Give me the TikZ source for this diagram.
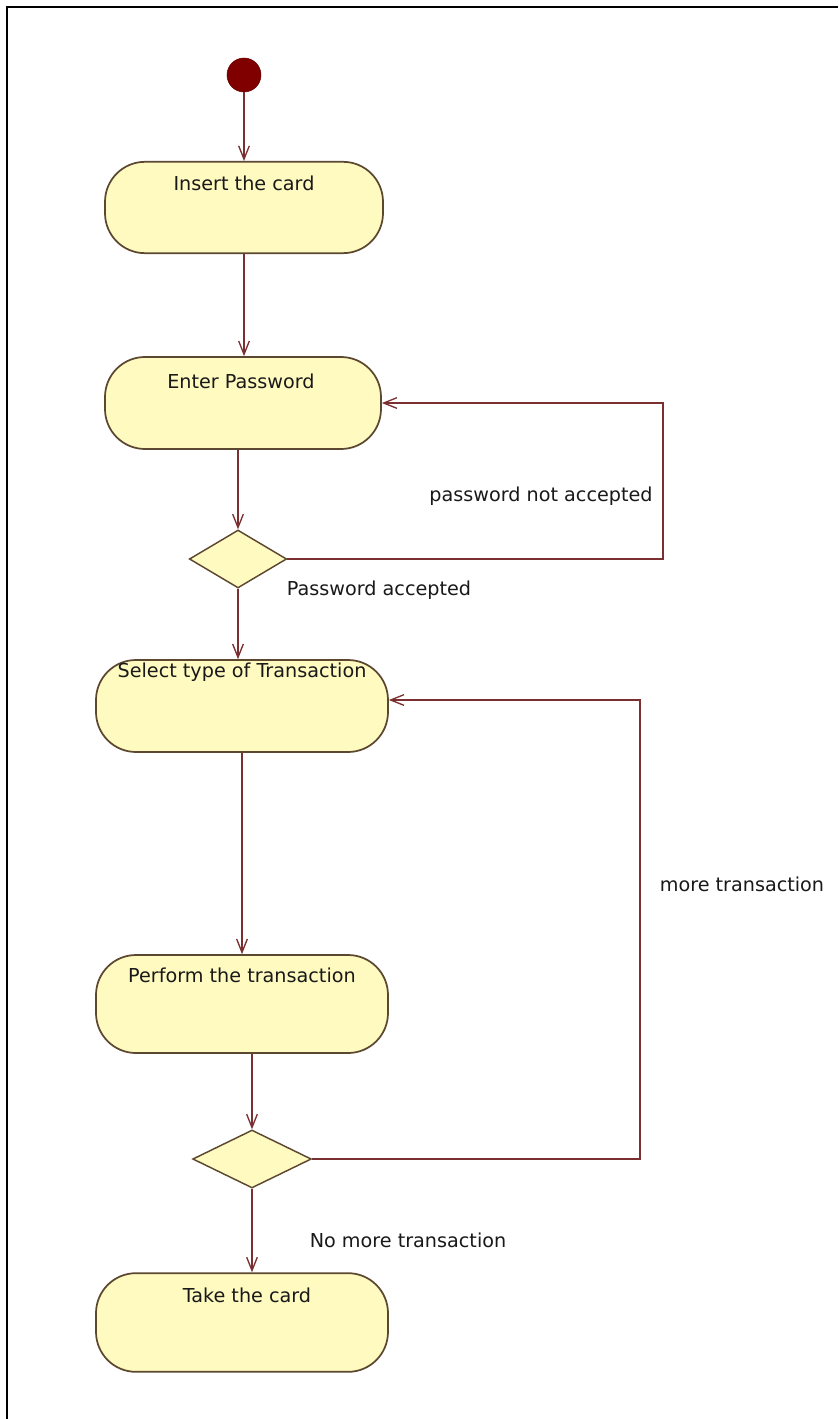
\documentclass[tikz,border=0pt]{standalone}
\usepackage{fontspec}
\setmainfont{DejaVu Sans}
\usetikzlibrary{shapes.geometric,arrows.meta,calc}
\definecolor{actfill}{RGB}{255,250,192}
\definecolor{actline}{RGB}{92,72,48}
\definecolor{conn}{RGB}{122,48,48}
\definecolor{startred}{RGB}{128,0,0}
\tikzset{
  act/.style={draw=actline, line width=1.3pt, fill=actfill, rounded corners=30pt, inner sep=0pt},
  dec/.style={draw=actline, line width=1.1pt, fill=actfill, diamond, aspect=2, inner sep=0pt},
  acttext/.style={font=\fontsize{14.4pt}{16pt}\selectfont, inner sep=0pt, text=black!90},
  lbl/.style={font=\fontsize{14.4pt}{16pt}\selectfont, inner sep=0pt, text=black!90},
  flow/.style={draw=conn, line width=1.1pt, -{Straight Barb[length=10pt,width=8pt,line width=1pt]}},
  startnode/.style={circle, fill=startred, draw=startred!80!black, minimum size=25.5pt, inner sep=0pt},
}
\begin{document}
\begin{tikzpicture}[x=0.75pt,y=-0.75pt]
\useasboundingbox (0,0) rectangle (838,1419);
\fill[white] (0,0) rectangle (838,1419);
% frame (top and left edges visible)
\draw[line width=1.6pt, black] (7,1419) -- (7,7) -- (838,7);

\node[startnode] (start) at (244,75) {};
\node[act, minimum width=208.5pt, minimum height=68.5pt] (insert) at (244,207.5) {};
\node[acttext] (tinsert) at (244,183) {Insert the card};
\node[act, minimum width=207pt, minimum height=69pt] (enter) at (243,403) {};
\node[acttext] (tenter) at (241,381) {Enter Password};
\node[dec, minimum width=73pt, minimum height=43.5pt] (d1) at (238,559) {};
\node[act, minimum width=219pt, minimum height=69pt] (select) at (242,706) {};
\node[acttext] (tselect) at (242,672) {Select type of Transaction};
\node[act, minimum width=219pt, minimum height=73.5pt] (perform) at (242,1004) {};
\node[acttext] (tperform) at (242,975) {Perform the transaction};
\node[dec, minimum width=89pt, minimum height=43.5pt] (d2) at (252,1159) {};
\node[act, minimum width=219pt, minimum height=74pt] (take) at (242,1322.5) {};
\node[acttext] (ttake) at (247,1295) {Take the card};

\coordinate (l1a) at (663,559);
\coordinate (l1b) at (663,403);
\coordinate (l2a) at (640,1159);
\coordinate (l2b) at (640,700);

\draw[flow] (start.south) -- (start.south |- insert.north);
\draw[flow] (insert.south) -- (insert.south |- enter.north);
\draw[flow] (d1.north |- enter.south) -- (d1.north);
\draw[flow] (d1.east) -- (l1a) -- (l1b) -- (enter.east);
\draw[flow] (d1.south) -- (d1.south |- select.north);
\draw[flow] (select.south) -- (perform.north);
\draw[flow] (d2.north |- perform.south) -- (d2.north);
\draw[flow] (d2.east) -- (l2a) -- (l2b) -- (l2b -| select.east);
\draw[flow] (d2.south) -- (d2.south |- take.north);

\node[lbl] (lnotacc) at (541,496) {password not accepted};
\node[lbl] (lacc) at (379,590) {Password accepted};
\node[lbl] (lmore) at (742,884) {more transaction};
\node[lbl] (lnomore) at (408,1240) {No more transaction};
\end{tikzpicture}
\end{document}
